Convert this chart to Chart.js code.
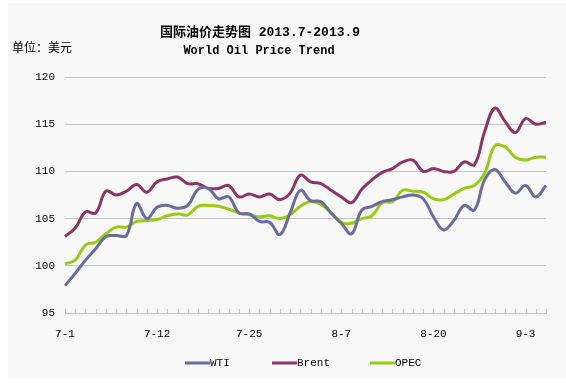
<!DOCTYPE html>
<html>
<head>
<meta charset="utf-8">
<script src="https://cdn.jsdelivr.net/npm/chart.js@4.4.1/dist/chart.umd.min.js"></script>
<style>
html,body{margin:0;padding:0;background:#ffffff;}
#wrap{width:566px;height:383px;position:relative;}
</style>
</head>
<body>
<div id="wrap"><canvas id="c" width="566" height="383"></canvas></div>
<script>
// ---- data ----
const categories = ['7-1','7-2','7-3','7-4','7-5','7-8','7-9','7-10','7-11','7-12',
  '7-15','7-16','7-17','7-18','7-19','7-22','7-23','7-24','7-25','7-26',
  '7-29','7-30','7-31','8-1','8-2','8-5','8-6','8-7','8-8','8-9',
  '8-12','8-13','8-14','8-15','8-16','8-19','8-20','8-21','8-22','8-23',
  '8-26','8-27','8-28','8-29','8-30','9-3','9-4','9-5'];
const shownTickLabels = ['7-1','7-12','7-25','8-7','8-20','9-3'];
const yTicks = [95, 100, 105, 110, 115, 120];

const wti = [97.9,99.2,100.6,101.8,103.1,103.2,103.2,106.6,105.0,106.2,
  106.4,106.1,106.4,108.1,108.2,107.1,107.3,105.6,105.5,104.7,
  104.6,103.3,105.6,108.0,106.9,106.8,105.6,104.5,103.4,105.9,
  106.3,106.8,107.0,107.3,107.5,107.1,105.2,103.8,104.8,106.4,
  105.9,109.1,110.2,108.9,107.7,108.5,107.3,108.5];
const brent = [103.1,104.0,105.7,105.6,107.9,107.5,107.9,108.6,107.8,108.9,
  109.2,109.4,108.7,108.7,108.2,108.2,108.5,107.3,107.6,107.3,
  107.6,107.0,107.7,109.6,108.9,108.7,108.0,107.3,106.7,108.1,
  109.1,109.9,110.3,111.0,111.2,110.0,110.3,110.0,110.0,111.0,
  110.7,114.2,116.7,115.3,114.1,115.6,115.0,115.2];
const opec = [100.2,100.6,102.2,102.5,103.4,104.1,104.1,104.7,104.8,104.9,
  105.3,105.5,105.4,106.3,106.4,106.3,106.0,105.6,105.4,105.2,
  105.3,105.0,105.4,106.3,106.8,106.5,105.6,104.6,104.5,105.0,
  105.3,106.7,106.8,108.0,107.9,107.8,107.1,107.0,107.6,108.2,
  108.5,109.8,112.7,112.6,111.5,111.2,111.5,111.5];

const seriesNames = ['WTI','Brent','OPEC'];
const titleLines = ['国际油价走势图 2013.7-2013.9', 'World Oil Price Trend'];
const unitText = '单位：美元';

// ---- styles ----
const colors = ['#6b6b9c', '#8b3563', '#9acb14'];
const gridColor = '#c4c4c4';
const panelColor = '#f8f8f8';
const monoFont = "'Liberation Mono', 'DejaVu Sans Mono', monospace";

const decor = {
  id: 'decor',
  beforeDraw(chart) {
    const ctx = chart.ctx;
    ctx.save();
    ctx.fillStyle = '#ffffff';
    ctx.fillRect(0, 0, chart.width, chart.height);
    ctx.fillStyle = panelColor;
    ctx.fillRect(8, 3, chart.width - 8, 375);
    ctx.restore();
  },
  afterDraw(chart) {
    const ctx = chart.ctx;
    const x = chart.scales.x;
    const area = chart.chartArea;
    ctx.save();
    // inward tick marks on the x axis
    ctx.strokeStyle = gridColor;
    ctx.lineWidth = 1;
    for (let i = 0; i < categories.length; i++) {
      const px = Math.round(x.getPixelForValue(i)) + 0.5;
      ctx.beginPath();
      ctx.moveTo(px, area.bottom);
      ctx.lineTo(px, area.bottom - 4);
      ctx.stroke();
    }
    // titles
    ctx.fillStyle = '#000';
    ctx.textAlign = 'center';
    ctx.textBaseline = 'middle';
    ctx.font = "bold 13px " + monoFont + ", 'Noto Sans CJK SC'";
    ctx.fillText(titleLines[0], 260, 33);
    ctx.font = "bold 12px " + monoFont;
    ctx.fillText(titleLines[1], 259, 51);
    // unit
    ctx.textAlign = 'left';
    ctx.font = "12px 'Noto Sans CJK SC'";
    ctx.fillText(unitText, 12, 47);
    // legend
    const legX = [185, 272, 370];
    const ly = 363;
    chart.data.datasets.forEach((ds, k) => {
      ctx.strokeStyle = ds.borderColor;
      ctx.lineWidth = 3;
      ctx.beginPath();
      ctx.moveTo(legX[k], ly);
      ctx.lineTo(legX[k] + 25, ly);
      ctx.stroke();
      ctx.fillStyle = '#000';
      ctx.font = "11px " + monoFont;
      ctx.textAlign = 'left';
      ctx.fillText(ds.label, legX[k] + 25, ly);
    });
    ctx.restore();
  }
};

const series = [wti, brent, opec];
new Chart(document.getElementById('c'), {
  type: 'line',
  data: {
    labels: categories,
    datasets: series.map((d, k) => ({
      label: seriesNames[k],
      data: d,
      borderColor: colors[k],
      backgroundColor: colors[k],
      borderWidth: 3,
      pointRadius: 0,
      tension: 0.4,
      fill: false
    }))
  },
  options: {
    responsive: false,
    animation: false,
    layout: { padding: { top: 77, right: 20, bottom: 40, left: 0 } },
    plugins: { legend: { display: false }, title: { display: false }, tooltip: { enabled: false } },
    scales: {
      x: {
        offset: false,
        afterFit(s) { s.height = 30; },
        grid: { display: true, drawOnChartArea: false, drawTicks: false, color: gridColor },
        border: { display: true, color: gridColor },
        ticks: {
          autoSkip: false, maxRotation: 0, padding: 14,
          color: '#000', font: { family: monoFont, size: 11 },
          callback(v, i) { const l = categories[i]; return shownTickLabels.includes(l) ? l : ''; }
        }
      },
      y: {
        min: 95, max: 120,
        afterFit(s) { s.width = 65; },
        afterBuildTicks(s) { s.ticks = yTicks.map(v => ({ value: v })); },
        grid: { color: gridColor, drawTicks: false },
        border: { display: false },
        ticks: { padding: 10, color: '#000', font: { family: monoFont, size: 11 } }
      }
    }
  },
  plugins: [decor]
});
</script>
</body>
</html>
